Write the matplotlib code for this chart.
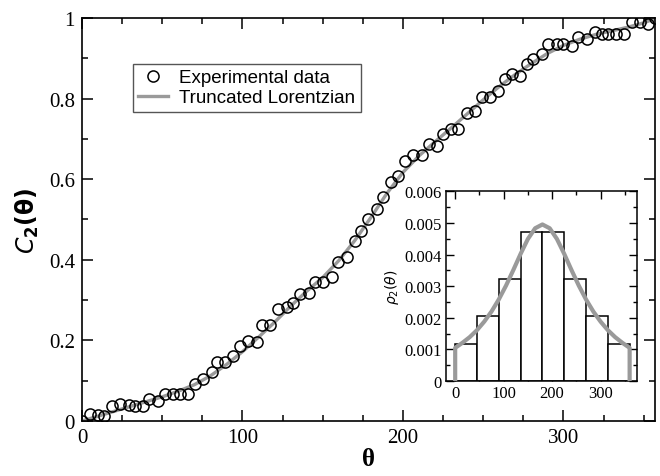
import matplotlib
matplotlib.use("Agg")
import matplotlib.pyplot as plt

theta_exp = [0, 5, 10, 14, 18.5, 23.7, 29, 33, 38, 42, 47.5, 51.7, 57, 61, 66,
             70.4, 75.6, 80.8, 84, 89, 94.3, 98.4, 103.6, 108.8, 112, 117, 122,
             127.5, 131.7, 136, 141.3, 145, 150, 155.6, 159.7, 165, 170, 174,
             178.4, 183.6, 187.7, 192.5, 197, 201.5, 206.2, 211.6, 216.3, 221,
             225, 230, 234.5, 239.7, 245, 249, 254, 259.4, 263.6, 267.7, 273,
             277, 281, 286.4, 290.5, 295.7, 300, 305, 309, 314.4, 319.6, 323.8,
             328, 333, 338, 342.5, 347.7, 352.8, 357]
c2_exp = [0.0, 0.017, 0.015, 0.013, 0.038, 0.042, 0.040, 0.038, 0.036, 0.055,
          0.050, 0.067, 0.067, 0.067, 0.067, 0.092, 0.104, 0.121, 0.146, 0.146,
          0.162, 0.187, 0.199, 0.195, 0.239, 0.239, 0.278, 0.284, 0.294, 0.315,
          0.317, 0.344, 0.344, 0.357, 0.394, 0.406, 0.447, 0.472, 0.501, 0.526,
          0.557, 0.594, 0.608, 0.646, 0.660, 0.660, 0.687, 0.683, 0.712, 0.724,
          0.724, 0.764, 0.768, 0.803, 0.803, 0.820, 0.849, 0.861, 0.857, 0.886,
          0.898, 0.911, 0.935, 0.935, 0.935, 0.931, 0.952, 0.948, 0.965, 0.960,
          0.960, 0.960, 0.960, 0.989, 0.989, 0.985, 1.0]

# fitted cumulative curve
theta_fit = [0, 10, 20, 30, 40, 50, 60, 70, 80, 90, 100, 110, 120, 130, 140,
             150, 160, 170, 180, 190, 200, 210, 220, 230, 240, 250, 260, 270,
             280, 290, 300, 310, 320, 330, 340, 350, 358]
c2_fit = [0.000, 0.012, 0.024, 0.036, 0.048, 0.060, 0.074, 0.090, 0.112, 0.140,
          0.172, 0.208, 0.245, 0.285, 0.322, 0.356, 0.398, 0.448, 0.505, 0.565,
          0.617, 0.658, 0.693, 0.727, 0.762, 0.797, 0.830, 0.860, 0.887, 0.912,
          0.932, 0.947, 0.959, 0.968, 0.977, 0.988, 1.000]

# inset histogram
bin_edges = [0, 45, 90, 135, 180, 225, 270, 315, 360]
rho_hist = [0.00118, 0.00206, 0.00322, 0.0047, 0.0047, 0.00322, 0.00206, 0.00118]

# inset density curve (with vertical drops at both ends)
theta_rho = [0, 0, 15, 30, 45, 60, 75, 90, 105, 120, 135, 150, 165, 180,
             195, 210, 225, 240, 255, 270, 285, 300, 315, 330, 345, 360, 360]
rho_fit = [0.0, 0.00105, 0.00121, 0.00139, 0.00161, 0.00188, 0.00220, 0.00258,
           0.00302, 0.00351, 0.00402, 0.00449, 0.00483, 0.00495, 0.00483,
           0.00449, 0.00402, 0.00351, 0.00302, 0.00258, 0.00220, 0.00188,
           0.00161, 0.00139, 0.00121, 0.00105, 0.0]

grey = "#9a9a9a"
serif = "Liberation Serif"
sans = "Liberation Sans"

fig = plt.figure(figsize=(6.6, 4.77), dpi=100)
ax = fig.add_axes([0.1242, 0.1153, 0.8682, 0.8449])

ax.plot(theta_fit, c2_fit, color=grey, lw=2.4, zorder=2, label="Truncated Lorentzian")
ax.plot(theta_exp, c2_exp, "o", mfc="none", mec="black", ms=8, mew=1.1, zorder=3,
        label="Experimental data")

ax.set_xlim(0, 357)
ax.set_ylim(0, 1)
ax.set_xticks([0, 100, 200, 300])
ax.set_xticks(range(0, 357, 25), minor=True)
ax.set_yticks([0, 0.2, 0.4, 0.6, 0.8, 1])
ax.set_yticklabels(["0", "0.2", "0.4", "0.6", "0.8", "1"])
ax.set_yticks([0.1, 0.3, 0.5, 0.7, 0.9], minor=True)
ax.tick_params(which="both", direction="in", top=True, right=True, width=1.1)
ax.tick_params(which="major", length=8, labelsize=15, pad=5)
ax.tick_params(which="minor", length=4)
for lab in ax.get_xticklabels() + ax.get_yticklabels():
    lab.set_family(serif)
for s in ax.spines.values():
    s.set_linewidth(1.2)

ax.set_xlabel("θ", fontsize=18, fontweight="bold", family=serif, labelpad=0)
ax.set_ylabel(r"$\mathbf{\mathit{C}}_\mathbf{2}\mathbf{(\theta)}$", fontsize=17, labelpad=6)

h, l = ax.get_legend_handles_labels()
leg = ax.legend(h[::-1], l[::-1], loc="upper left", bbox_to_anchor=(0.072, 0.91),
                fancybox=False, edgecolor="#555555", framealpha=1,
                prop={"family": sans, "size": 13.5}, handlelength=1.6,
                borderpad=0.3, labelspacing=0.15, handletextpad=0.6)
leg.get_frame().set_linewidth(1.0)

# inset
ins = fig.add_axes([0.675, 0.199, 0.29, 0.398])
ins.bar(bin_edges[:-1], rho_hist, width=45, align="edge", color="white",
        edgecolor="black", lw=1.1, zorder=2)
ins.plot(theta_rho, rho_fit, color=grey, lw=3, zorder=3)
ins.set_xlim(-20, 375)
ins.set_ylim(0, 0.006)
ins.set_xticks([0, 100, 200, 300])
ins.set_xticks([50, 150, 250, 350], minor=True)
ins.set_yticks([0, 0.001, 0.002, 0.003, 0.004, 0.005, 0.006])
ins.set_yticklabels(["0", "0.001", "0.002", "0.003", "0.004", "0.005", "0.006"])
ins.set_yticks([0.0005, 0.0015, 0.0025, 0.0035, 0.0045, 0.0055], minor=True)
ins.tick_params(which="both", direction="in", top=True, right=True, width=1.0)
ins.tick_params(which="major", length=6, labelsize=12, pad=3)
ins.tick_params(which="minor", length=3)
for lab in ins.get_xticklabels() + ins.get_yticklabels():
    lab.set_family(serif)
for s in ins.spines.values():
    s.set_linewidth(1.1)
ins.set_ylabel(r"$\rho_2(\theta)$", fontsize=10, labelpad=2)

fig.savefig("out.png", dpi=100)
